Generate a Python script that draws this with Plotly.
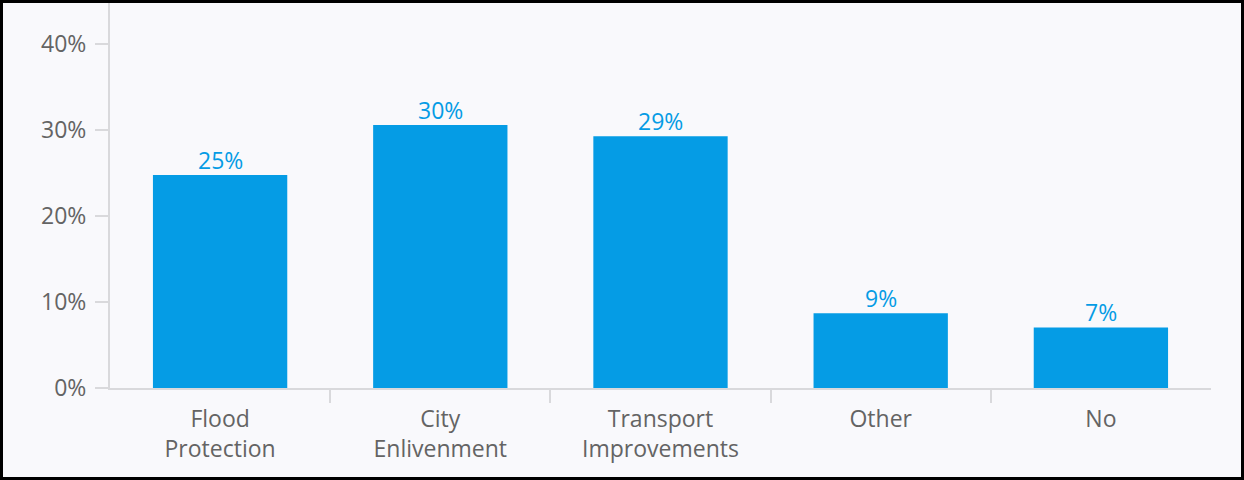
import plotly.graph_objects as go

categories = ["Flood<br>Protection", "City<br>Enlivenment", "Transport<br>Improvements", "Other", "No"]
values = [24.8, 30.6, 29.3, 8.7, 7.05]
value_labels = ["25%", "30%", "29%", "9%", "7%"]
y_ticks = [0, 10, 20, 30, 40]
y_tick_labels = ["0%", "10%", "20%", "30%", "40%"]
divider_positions = [0.5, 1.5, 2.5, 3.5]

W, H = 1244, 480
ML, MR, MT, MB = 110, 33, 3, 92

BLUE = "#059CE5"
GRAY_TEXT = "#646464"
AXIS = "#D9D9DC"
BG = "#F9F9FC"
FONT = "Open Sans"
FS = 23

xs = list(range(len(categories)))

fig = go.Figure()
fig.add_trace(go.Bar(
    x=xs,
    y=values,
    marker=dict(color=BLUE, line=dict(width=0)),
    width=0.61,
    hoverinfo="skip",
))
fig.add_trace(go.Scatter(x=[], y=[], xaxis="x2", yaxis="y", showlegend=False))

for xi, v, lab in zip(xs, values, value_labels):
    fig.add_annotation(
        x=xi, y=v, text=lab, showarrow=False,
        xanchor="center", yanchor="bottom", yshift=-3,
        font=dict(color=BLUE, size=FS, family=FONT),
    )

pw = W - ML - MR
ph = H - MT - MB
fig.update_layout(
    width=W, height=H,
    margin=dict(l=ML, r=MR, t=MT, b=MB, pad=0),
    paper_bgcolor=BG, plot_bgcolor=BG,
    showlegend=False,
    font=dict(family=FONT, color=GRAY_TEXT, size=FS),
    xaxis=dict(
        range=[-0.5, len(categories) - 0.5],
        tickmode="array",
        tickvals=xs,
        ticktext=categories,
        showline=True, linecolor=AXIS, linewidth=2,
        ticks="", showgrid=False, zeroline=False,
        tickfont=dict(size=FS, color=GRAY_TEXT, family=FONT),
        ticklabelstandoff=9,
    ),
    xaxis2=dict(
        overlaying="x", range=[-0.5, len(categories) - 0.5],
        tickmode="array", tickvals=divider_positions,
        ticks="outside", ticklen=14, tickwidth=2, tickcolor=AXIS,
        showticklabels=False, showgrid=False, zeroline=False, showline=False,
        side="bottom",
    ),
    yaxis=dict(
        range=[0, 44.8],
        tickmode="array", tickvals=y_ticks, ticktext=y_tick_labels,
        showline=True, linecolor=AXIS, linewidth=2,
        ticks="outside", ticklen=13, tickwidth=2, tickcolor=AXIS,
        showgrid=False, zeroline=False,
        tickfont=dict(size=FS, color=GRAY_TEXT, family=FONT),
        ticklabelstandoff=4,
    ),
    shapes=[dict(
        type="rect", xref="paper", yref="paper",
        x0=-(ML - 1.5) / pw, x1=1 + (MR - 1.5) / pw,
        y0=-(MB - 1.5) / ph, y1=1 + (MT - 1.5) / ph,
        line=dict(color="black", width=3), fillcolor="rgba(0,0,0,0)",
        layer="above",
    )],
)

fig.write_html(
    "out.html",
    config={"displayModeBar": False, "staticPlot": True},
    post_script="document.body.style.margin='0';document.body.style.overflow='hidden';",
)
